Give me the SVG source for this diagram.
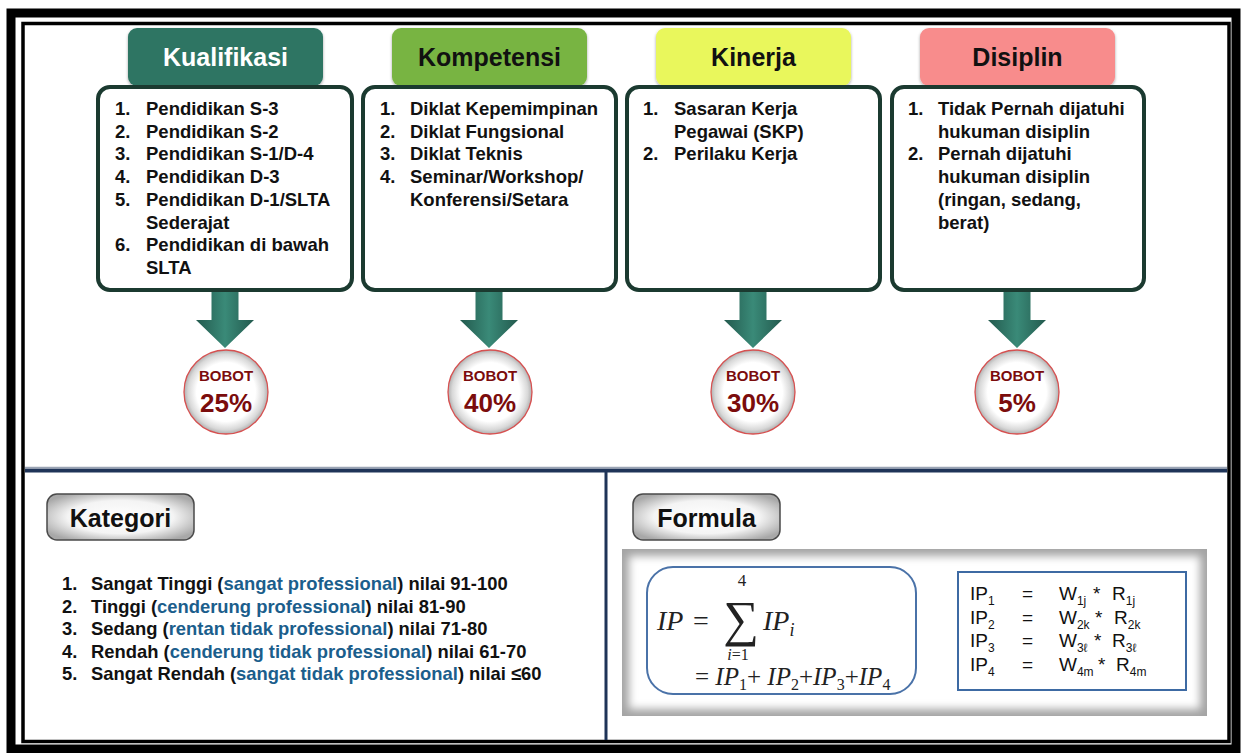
<svg xmlns="http://www.w3.org/2000/svg" width="1243" height="753" viewBox="0 0 1243 753">
<defs>
<style>
.b{font-family:"Liberation Sans",Arial,sans-serif;font-weight:bold;}
.it{font-size:18.5px;fill:#111;}
.tab{font-size:25px;text-anchor:middle;}
.box{fill:#fff;stroke:#1b3a30;stroke-width:4;}
.circ{fill:url(#cg);stroke:#d65050;stroke-width:1.3;}
.bobot{font-size:15px;fill:#7b0c0c;text-anchor:middle;}
.pct{font-size:26px;fill:#7b0c0c;text-anchor:middle;}
.kat{font-size:18.4px;fill:#111;}
.blue{fill:#1b5e8c;}
.btn{fill:url(#bg);stroke:#4a4a4a;stroke-width:1.5;}
.m{font-family:"Liberation Serif","Times New Roman",serif;fill:#222;}
.mi{font-style:italic;}
.f{font-family:"Liberation Sans",Arial,sans-serif;font-size:19px;fill:#111;}
.sub{font-size:12px;}
</style>
<radialGradient id="cg" cx="0.5" cy="0.5" r="0.5">
<stop offset="0" stop-color="#ffffff"/>
<stop offset="0.7" stop-color="#ffffff"/>
<stop offset="0.9" stop-color="#d8d8d8"/>
<stop offset="1" stop-color="#b0b0b0"/>
</radialGradient>
<radialGradient id="bg" cx="0.5" cy="0.5" r="0.6">
<stop offset="0" stop-color="#ffffff"/>
<stop offset="0.6" stop-color="#f4f4f4"/>
<stop offset="1" stop-color="#a8a8a8"/>
</radialGradient>
<linearGradient id="ag" x1="0" y1="0" x2="1" y2="0">
<stop offset="0" stop-color="#235a4e"/>
<stop offset="0.5" stop-color="#3a8a78"/>
<stop offset="1" stop-color="#235a4e"/>
</linearGradient>
<filter id="blur" x="-5%" y="-10%" width="110%" height="120%"><feGaussianBlur stdDeviation="4"/></filter>
<filter id="sh" x="-10%" y="-10%" width="120%" height="130%"><feDropShadow dx="0" dy="1.5" stdDeviation="1.5" flood-color="#000" flood-opacity="0.35"/></filter>
<path id="arrow" d="M-13.5,0 H13.5 V30 H29 L0,58 L-29,30 H-13.5 Z"/>
</defs>

<rect x="0" y="0" width="1243" height="753" fill="#fff"/>

<!-- frame -->
<g id="frame" fill="none">
<rect x="11" y="13" width="1225" height="736" stroke="#000" stroke-width="9"/>
<rect x="23" y="23.5" width="1206" height="718" stroke="#000" stroke-width="3.5"/>
<line x1="25" y1="470.5" x2="1227" y2="470.5" stroke="#1f3458" stroke-width="4"/>
<line x1="25" y1="467.5" x2="1227" y2="467.5" stroke="#9aa4b4" stroke-width="1.5"/>
<line x1="606" y1="472" x2="606" y2="740" stroke="#1f3458" stroke-width="3"/>
</g>

<!-- connectors -->
<g id="connectors">
<use href="#arrow" x="225" y="290" fill="url(#ag)"/>
<use href="#arrow" x="489" y="290" fill="url(#ag)"/>
<use href="#arrow" x="753" y="290" fill="url(#ag)"/>
<use href="#arrow" x="1017" y="290" fill="url(#ag)"/>
</g>

<!-- Kualifikasi -->
<g id="kualifikasi">
<rect x="128" y="28" width="195" height="58" rx="9" fill="#2d7463" filter="url(#sh)"/>
<text class="b tab" x="225.5" y="66" fill="#fff">Kualifikasi</text>
<rect class="box" x="98" y="87" width="254" height="203" rx="12"/>
<text class="b it">
<tspan x="115" y="115">1.</tspan><tspan x="146">Pendidikan S-3</tspan>
<tspan x="115" y="137.7">2.</tspan><tspan x="146">Pendidikan S-2</tspan>
<tspan x="115" y="160.4">3.</tspan><tspan x="146">Pendidikan S-1/D-4</tspan>
<tspan x="115" y="183.1">4.</tspan><tspan x="146">Pendidikan D-3</tspan>
<tspan x="115" y="205.8">5.</tspan><tspan x="146">Pendidikan D-1/SLTA</tspan>
<tspan x="146" y="228.5">Sederajat</tspan>
<tspan x="115" y="251.2">6.</tspan><tspan x="146">Pendidikan di bawah</tspan>
<tspan x="146" y="273.9">SLTA</tspan>
</text>
</g>

<!-- Kompetensi -->
<g id="kompetensi">
<rect x="392" y="28" width="195" height="58" rx="9" fill="#78b443" filter="url(#sh)"/>
<text class="b tab" x="489.5" y="66" fill="#111">Kompetensi</text>
<rect class="box" x="363" y="87" width="253" height="203" rx="12"/>
<text class="b it">
<tspan x="380" y="115">1.</tspan><tspan x="410">Diklat Kepemimpinan</tspan>
<tspan x="380" y="137.7">2.</tspan><tspan x="410">Diklat Fungsional</tspan>
<tspan x="380" y="160.4">3.</tspan><tspan x="410">Diklat Teknis</tspan>
<tspan x="380" y="183.1">4.</tspan><tspan x="410">Seminar/Workshop/</tspan>
<tspan x="410" y="205.8">Konferensi/Setara</tspan>
</text>
</g>

<!-- Kinerja -->
<g id="kinerja">
<rect x="656" y="28" width="195" height="58" rx="9" fill="#e9f75b" filter="url(#sh)"/>
<text class="b tab" x="753.5" y="66" fill="#111">Kinerja</text>
<rect class="box" x="627" y="87" width="253" height="203" rx="12"/>
<text class="b it">
<tspan x="643" y="115">1.</tspan><tspan x="674">Sasaran Kerja</tspan>
<tspan x="674" y="137.7">Pegawai (SKP)</tspan>
<tspan x="643" y="160.4">2.</tspan><tspan x="674">Perilaku Kerja</tspan>
</text>
</g>

<!-- Disiplin -->
<g id="disiplin">
<rect x="920" y="28" width="195" height="58" rx="9" fill="#f88c8c" filter="url(#sh)"/>
<text class="b tab" x="1017.5" y="66" fill="#111">Disiplin</text>
<rect class="box" x="892" y="87" width="252" height="203" rx="12"/>
<text class="b it">
<tspan x="908" y="115">1.</tspan><tspan x="938">Tidak Pernah dijatuhi</tspan>
<tspan x="938" y="137.7">hukuman disiplin</tspan>
<tspan x="908" y="160.4">2.</tspan><tspan x="938">Pernah dijatuhi</tspan>
<tspan x="938" y="183.1">hukuman disiplin</tspan>
<tspan x="938" y="205.8">(ringan, sedang,</tspan>
<tspan x="938" y="228.5">berat)</tspan>
</text>
</g>

<!-- Bobot circles -->
<g id="bobot-25">
<circle class="circ" cx="226" cy="392" r="42"/>
<text class="b bobot" x="226" y="381">BOBOT</text>
<text class="b pct" x="226" y="412">25%</text>
</g>
<g id="bobot-40">
<circle class="circ" cx="490" cy="392" r="42"/>
<text class="b bobot" x="490" y="381">BOBOT</text>
<text class="b pct" x="490" y="412">40%</text>
</g>
<g id="bobot-30">
<circle class="circ" cx="753" cy="392" r="42"/>
<text class="b bobot" x="753" y="381">BOBOT</text>
<text class="b pct" x="753" y="412">30%</text>
</g>
<g id="bobot-5">
<circle class="circ" cx="1017" cy="392" r="42"/>
<text class="b bobot" x="1017" y="381">BOBOT</text>
<text class="b pct" x="1017" y="412">5%</text>
</g>

<!-- Kategori -->
<g id="kategori">
<rect class="btn" x="47" y="494" width="147" height="46" rx="10"/>
<text class="b" x="120.5" y="527" font-size="25" text-anchor="middle" fill="#111">Kategori</text>
<text class="b kat">
<tspan x="62" y="590">1.</tspan><tspan x="91">Sangat Tinggi (</tspan><tspan class="blue">sangat professional</tspan><tspan>) nilai 91-100</tspan>
<tspan x="62" y="612.6">2.</tspan><tspan x="91">Tinggi (</tspan><tspan class="blue">cenderung professional</tspan><tspan>) nilai 81-90</tspan>
<tspan x="62" y="635.2">3.</tspan><tspan x="91">Sedang (</tspan><tspan class="blue">rentan tidak professional</tspan><tspan>) nilai 71-80</tspan>
<tspan x="62" y="657.8">4.</tspan><tspan x="91">Rendah (</tspan><tspan class="blue">cenderung tidak professional</tspan><tspan>) nilai 61-70</tspan>
<tspan x="62" y="680.4">5.</tspan><tspan x="91">Sangat Rendah (</tspan><tspan class="blue">sangat tidak professional</tspan><tspan>) nilai ≤60</tspan>
</text>
</g>

<!-- Formula -->
<g id="formula">
<rect class="btn" x="633" y="494" width="147" height="46" rx="10"/>
<text class="b" x="706.5" y="527" font-size="25" text-anchor="middle" fill="#111">Formula</text>
<rect x="622" y="549" width="585" height="167" fill="#a4a4a4"/>
<rect x="629" y="556" width="571" height="153" fill="#fff" filter="url(#blur)"/>
<rect x="647" y="567" width="269" height="127" rx="26" fill="none" stroke="#4a72a8" stroke-width="2"/>
<text class="m mi" x="657" y="630" font-size="28">IP</text>
<text class="m" x="693" y="630" font-size="28">=</text>
<text class="m" x="741" y="636" font-size="50" text-anchor="middle">∑</text>
<text class="m" x="742" y="586" font-size="17" text-anchor="middle">4</text>
<text class="m" x="738" y="660" font-size="16" text-anchor="middle"><tspan class="mi">i</tspan>=1</text>
<text class="m" x="763" y="630" font-size="28"><tspan class="mi">IP</tspan><tspan class="mi" font-size="18" dy="6">i</tspan></text>
<text class="m" x="695" y="685" font-size="25">= <tspan class="mi">IP</tspan><tspan font-size="16" dy="5">1</tspan><tspan dy="-5">+ </tspan><tspan class="mi">IP</tspan><tspan font-size="16" dy="5">2</tspan><tspan dy="-5">+</tspan><tspan class="mi">IP</tspan><tspan font-size="16" dy="5">3</tspan><tspan dy="-5">+</tspan><tspan class="mi">IP</tspan><tspan font-size="16" dy="5">4</tspan></text>
<rect x="958" y="572" width="228" height="118" fill="#fff" stroke="#3d6aa3" stroke-width="2"/>
<text class="f"><tspan x="970" y="600">IP</tspan><tspan class="sub" dy="5">1</tspan><tspan x="1022" y="600">=</tspan><tspan x="1059">W</tspan><tspan class="sub" dy="5">1j</tspan><tspan x="1093" dy="-5">*</tspan><tspan x="1112">R</tspan><tspan class="sub" dy="5">1j</tspan></text>
<text class="f"><tspan x="970" y="623.5">IP</tspan><tspan class="sub" dy="5">2</tspan><tspan x="1022" y="623.5">=</tspan><tspan x="1059">W</tspan><tspan class="sub" dy="5">2k</tspan><tspan x="1095" dy="-5">*</tspan><tspan x="1114">R</tspan><tspan class="sub" dy="5">2k</tspan></text>
<text class="f"><tspan x="970" y="647">IP</tspan><tspan class="sub" dy="5">3</tspan><tspan x="1022" y="647">=</tspan><tspan x="1059">W</tspan><tspan class="sub" dy="5">3ℓ</tspan><tspan x="1094" dy="-5">*</tspan><tspan x="1112">R</tspan><tspan class="sub" dy="5">3ℓ</tspan></text>
<text class="f"><tspan x="970" y="670.5">IP</tspan><tspan class="sub" dy="5">4</tspan><tspan x="1022" y="670.5">=</tspan><tspan x="1059">W</tspan><tspan class="sub" dy="5">4m</tspan><tspan x="1098" dy="-5">*</tspan><tspan x="1116">R</tspan><tspan class="sub" dy="5">4m</tspan></text>
</g>
</svg>
